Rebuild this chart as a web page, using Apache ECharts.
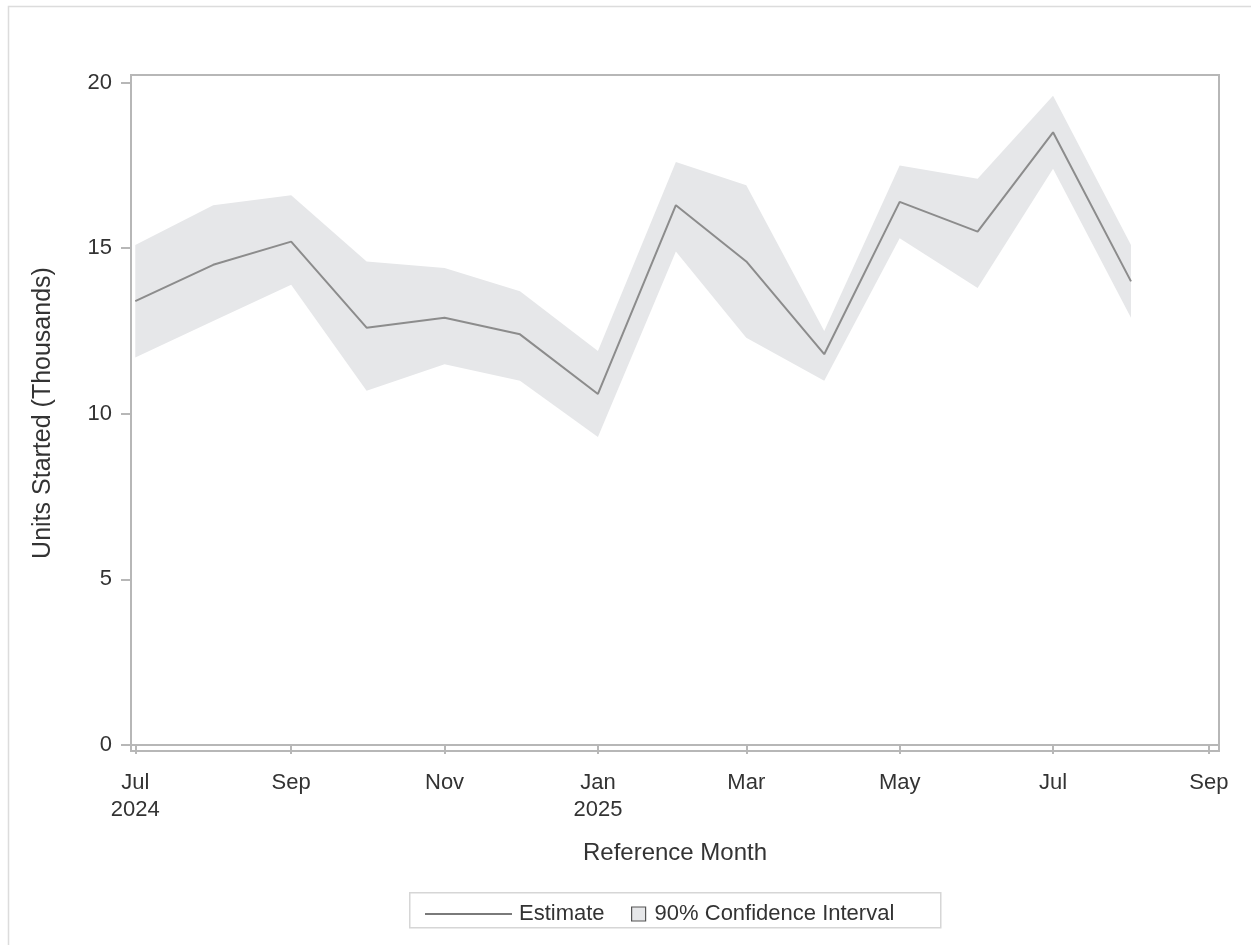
<!DOCTYPE html>
<html>
<head>
<meta charset="utf-8">
<script src="https://cdn.jsdelivr.net/npm/echarts@6/dist/echarts.min.js"></script>
<style>
  html, body { margin: 0; padding: 0; background: #fff; }
  #chart { width: 1251px; height: 945px; }
</style>
</head>
<body>
<div id="chart"></div>
<script>
// monthly reference months (first of month)
const months = ['2024-07', '2024-08', '2024-09', '2024-10', '2024-11', '2024-12', '2025-01',
    '2025-02', '2025-03', '2025-04', '2025-05', '2025-06', '2025-07', '2025-08'];
const estimate = [13.4, 14.5, 15.2, 12.6, 12.9, 12.4, 10.6, 16.3, 14.6, 11.8, 16.4, 15.5, 18.5, 14.0];
const lower = [11.7, 12.8, 13.9, 10.7, 11.5, 11.0, 9.3, 14.9, 12.3, 11.0, 15.3, 13.8, 17.4, 12.9];
const upper = [15.1, 16.3, 16.6, 14.6, 14.4, 13.7, 11.9, 17.6, 16.9, 12.5, 17.5, 17.1, 19.6, 15.1];
const xTickMonths = ['2024-07', '2024-09', '2024-11', '2025-01', '2025-03', '2025-05', '2025-07', '2025-09'];
const yTicks = [0, 5, 10, 15, 20];

const monthNames = ['Jan', 'Feb', 'Mar', 'Apr', 'May', 'Jun', 'Jul', 'Aug', 'Sep', 'Oct', 'Nov', 'Dec'];

function toTime(ym) {
    const [y, m] = ym.split('-').map(Number);
    return Date.UTC(y, m - 1, 1);
}

const DAY = 86400000;
const times = months.map(toTime);
const xTicks = xTickMonths.map(toTime);

const textColor = '#333';
const axisColor = '#b7b7b7';
const bandColor = '#e6e7e9';
const font = 'Liberation Sans';

// band polygon: lower bound left->right, then upper bound right->left
function renderBand(params, api) {
    if (params.dataIndexInside !== 0) return null;
    const n = params.dataInsideLength;
    const pts = [];
    for (let i = 0; i < n; i++) pts.push(api.coord([api.value(0, i), api.value(1, i)]));
    for (let i = n - 1; i >= 0; i--) pts.push(api.coord([api.value(0, i), api.value(2, i)]));
    return {
        type: 'polygon',
        shape: { points: pts },
        style: { fill: bandColor }
    };
}

echarts.init(document.querySelector('#chart')).setOption({
    animation: false,
    backgroundColor: '#fff',
    textStyle: { fontFamily: font },
    grid: {
        left: 131, right: 32, top: 75, bottom: 194,
        show: true, borderColor: axisColor, borderWidth: 2, backgroundColor: 'transparent'
    },
    graphic: [{
        type: 'rect', left: 6, top: 4, z: -1,
        shape: { width: 1244, height: 940 },
        style: { fill: 'none', stroke: '#dcdcdc', lineWidth: 1.5 }
    }, {
        type: 'rect', left: 409, top: 892, z: -1,
        shape: { width: 531, height: 35 },
        style: { fill: '#fff', stroke: '#d6d6d6', lineWidth: 1.5 }
    }],
    legend: [{
        data: [{ name: 'Estimate', icon: 'rect', itemStyle: { color: '#7a7a7a' } }],
        left: 420, top: 898,
        itemWidth: 87, itemHeight: 2, itemGap: 10,
        textStyle: { fontSize: 22, color: textColor, fontFamily: font, padding: [0, 0, 0, 2] }
    }, {
        data: [{
            name: '90% Confidence Interval', icon: 'rect',
            itemStyle: { color: bandColor, borderColor: '#555', borderWidth: 1.2 }
        }],
        left: 626, top: 898,
        itemWidth: 14, itemHeight: 14,
        textStyle: { fontSize: 22, color: textColor, fontFamily: font, padding: [0, 0, 0, 4] }
    }],
    xAxis: {
        type: 'value',
        min: xTicks[0] - 1.7 * DAY,
        max: xTicks[xTicks.length - 1] + 4 * DAY,
        name: 'Reference Month',
        nameLocation: 'middle',
        nameGap: 90,
        nameTextStyle: { fontSize: 24, color: textColor, fontFamily: font },
        axisLine: { show: true, lineStyle: { color: axisColor, width: 2 } },
        axisTick: { show: true, length: 9, customValues: xTicks, lineStyle: { color: axisColor, width: 2 } },
        axisLabel: {
            customValues: xTicks,
            fontSize: 22, color: textColor, fontFamily: font, margin: 18, lineHeight: 27,
            formatter: v => {
                const d = new Date(v);
                const name = monthNames[d.getUTCMonth()];
                return (d.getUTCMonth() === 0 || v === xTicks[0]) ? name + '\n' + d.getUTCFullYear() : name;
            }
        },
        splitLine: { show: false }
    },
    yAxis: {
        type: 'value',
        min: -0.18, max: 20.23,
        name: 'Units Started (Thousands)',
        nameLocation: 'middle',
        nameGap: 75,
        nameTextStyle: { fontSize: 25, color: textColor, fontFamily: font },
        axisLine: { show: true, lineStyle: { color: axisColor, width: 2 } },
        axisTick: { show: true, length: 10, customValues: yTicks, lineStyle: { color: axisColor, width: 2 } },
        axisLabel: { customValues: yTicks, fontSize: 22, color: textColor, fontFamily: font, margin: 19 },
        splitLine: { show: false }
    },
    series: [{
        name: '90% Confidence Interval',
        type: 'custom',
        color: bandColor,
        renderItem: renderBand,
        encode: { x: 0, y: [1, 2] },
        data: times.map((t, i) => [t, lower[i], upper[i]]),
        z: 1
    }, {
        name: 'Estimate',
        type: 'line',
        symbol: 'none',
        color: '#8c8c8c',
        lineStyle: { color: '#8c8c8c', width: 2 },
        data: times.map((t, i) => [t, estimate[i]]),
        z: 3
    }]
});
</script>
</body>
</html>
